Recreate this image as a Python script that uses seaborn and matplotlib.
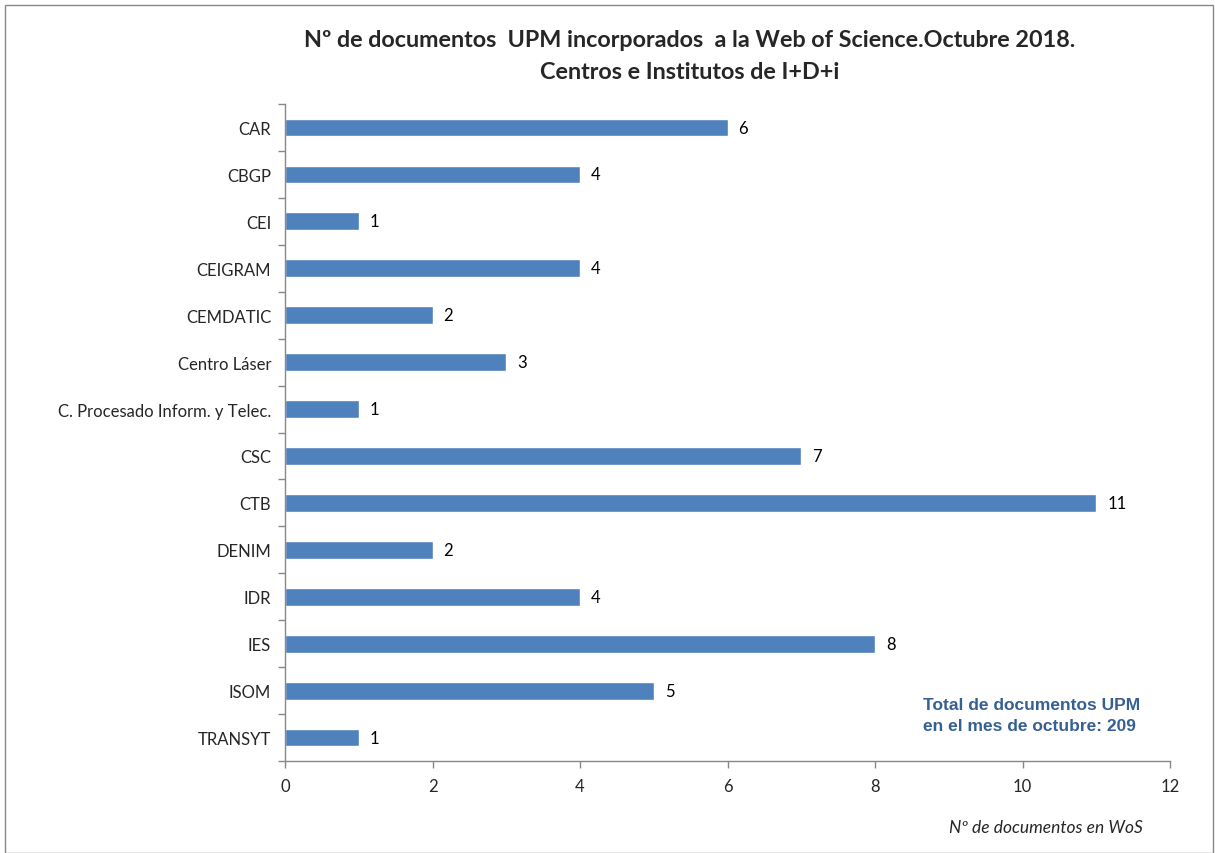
import matplotlib
matplotlib.use('Agg')
import matplotlib.pyplot as plt
import seaborn as sns
import pandas as pd

# data
centros = ['CAR', 'CBGP', 'CEI', 'CEIGRAM', 'CEMDATIC', 'Centro Láser',
           'C. Procesado Inform. y Telec.', 'CSC', 'CTB', 'DENIM', 'IDR',
           'IES', 'ISOM', 'TRANSYT']
documentos = [6, 4, 1, 4, 2, 3, 1, 7, 11, 2, 4, 8, 5, 1]
x_ticks = [0, 2, 4, 6, 8, 10, 12]

df = pd.DataFrame({'centro': centros, 'docs': documentos})

sns.set_style('white')
plt.rcParams['font.family'] = ['Lato', 'DejaVu Sans']

fig = plt.figure(figsize=(12.15, 8.54), dpi=100)
ax = fig.add_axes([0.2346, 0.1077, 0.7284, 0.7693])

sns.barplot(data=df, x='docs', y='centro', orient='h', color='#4F81BD',
            saturation=1, width=0.38, ax=ax)

for i, v in enumerate(documentos):
    ax.text(v + 0.15, i, str(v), va='center', ha='left', fontsize=12, color='black')

ax.set_xlim(0, 12)
ax.set_ylim(len(centros) - 0.5, -0.5)
ax.set_xticks(x_ticks)
ax.set_xticklabels([str(t) for t in x_ticks], fontsize=12)
ax.tick_params(axis='y', which='major', left=False, length=0, labelsize=12, pad=10)
ax.set_yticks([i - 0.5 for i in range(len(centros) + 1)], minor=True)
ax.tick_params(axis='y', which='minor', left=True, length=5, color='#888888', width=1)
ax.tick_params(axis='x', bottom=True, length=5, color='#888888', width=1, pad=7)
ax.set_xlabel('')
ax.set_ylabel('')

sns.despine(ax=ax, top=True, right=True)
for s in ['left', 'bottom']:
    ax.spines[s].set_color('#888888')
    ax.spines[s].set_linewidth(1)

fig.text(0.568, 0.953, 'Nº de documentos  UPM incorporados  a la Web of Science.Octubre 2018.',
         ha='center', va='center', fontsize=16.8, fontweight='bold')
fig.text(0.568, 0.915, 'Centros e Institutos de I+D+i',
         ha='center', va='center', fontsize=16.8, fontweight='bold')

fig.text(0.760, 0.162, 'Total de documentos UPM\nen el mes de octubre: 209',
         ha='left', va='center', fontsize=12.5, fontweight='bold', color='#376092',
         family='Liberation Sans', linespacing=1.5)

fig.text(0.941, 0.030, 'Nº de documentos en WoS', ha='right', va='center',
         fontsize=12.5, style='italic')

# outer border
fig.patches.append(plt.Rectangle((0.004, 0.0), 0.994, 0.993, transform=fig.transFigure,
                                 fill=False, edgecolor='#888888', linewidth=1))

fig.savefig('out.png', dpi=100)
